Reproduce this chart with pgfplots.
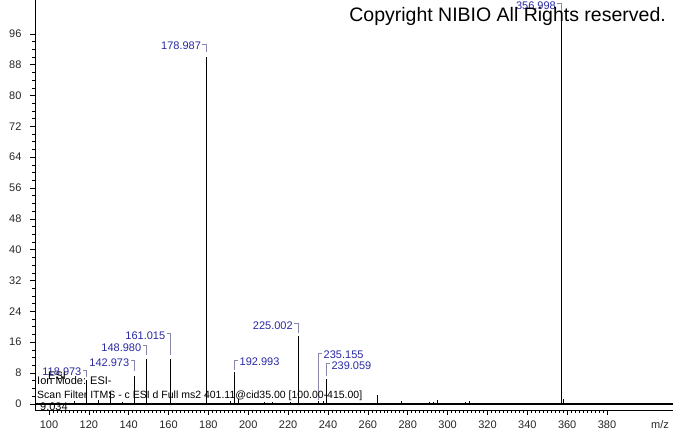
\documentclass[border=0pt]{standalone}
\usepackage{pgfplots}
\pgfplotsset{compat=1.18}
\usepackage{fontspec}
\setmainfont{Liberation Sans}
\definecolor{lblue}{RGB}{40,40,165}
\definecolor{brk}{RGB}{135,135,170}
\newcommand{\lblL}[4]{% x, ybottom, ycorner, text : label left of bracket
  \draw[brk, line width=0.8bp] (axis cs:#1,#2) -- (axis cs:#1,#3) -- ++(-4bp,0bp)
    node[anchor=east, inner sep=1bp, yshift=-2bp, text=lblue, font=\fontsize{11bp}{13bp}\selectfont] {#4};}
\newcommand{\lblR}[4]{% label right of bracket
  \draw[brk, line width=0.8bp] (axis cs:#1,#2) -- (axis cs:#1,#3) -- ++(4bp,0bp)
    node[anchor=west, inner sep=1bp, yshift=-2bp, text=lblue, font=\fontsize{11bp}{13bp}\selectfont] {#4};}
\begin{document}
\begin{tikzpicture}[x=1bp,y=1bp]
\useasboundingbox (0,0) rectangle (673,433);
\begin{axis}[
  at={(35bp,23bp)}, anchor=south west,
  scale only axis, width=638bp, height=410bp,
  xmin=93, xmax=413.1, ymin=-1.6, ymax=104.8,
  axis x line=bottom, axis y line=left,
  axis line style={-, black, line width=0.8bp},
  xtick={100,120,...,380}, ytick={0,8,...,96},
  minor x tick num=9, minor y tick num=3,
  tick align=outside,
  major tick length=5bp, minor tick length=3bp,
  tick style={black, line width=0.6bp},
  tick label style={font=\fontsize{11bp}{13bp}\selectfont, text=black!85},
  yticklabel style={xshift=-5bp},
  xticklabel style={yshift=-2bp},
  /pgf/number format/assume math mode=true,
  clip=false,
]
\addplot[black, line width=1.4bp] coordinates {(93,0) (413.1,0)};
\addplot[ycomb, black, line width=1bp, mark=none] coordinates {
  (113,0.8) (118.973,6.3) (125,1.0) (131,3.0) (137,0.6)
  (142.973,7.2) (148.980,11.6) (161.015,11.6) (178.987,89.9)
  (191.0,0.8) (192.993,8.2) (195.0,1.3) (208,0.5) (212,0.5) (221,0.4)
  (225.002,17.6) (235.155,0.8) (237.5,0.7) (239.059,6.4)
  (265.0,2.4) (277,0.8) (291,0.4) (293,0.4) (295,0.9) (309,0.4) (311,0.8)
  (337,0.3) (356.998,100) (358,1.2)
};
\lblL{118.973}{7.0}{8.8}{118.973}
\lblL{142.973}{8.6}{11.2}{142.973}
\lblL{148.980}{12.7}{15.1}{148.980}
\lblL{161.015}{12.7}{18.2}{161.015}
\lblL{178.987}{91.4}{93.4}{178.987}
\lblR{192.993}{8.8}{11.4}{192.993}
\lblL{225.002}{18.4}{20.8}{225.002}
\lblR{235.155}{1.0}{13.2}{235.155}
\lblR{239.059}{7.3}{10.4}{239.059}
\lblL{356.998}{101.5}{103.8}{356.998}
\end{axis}
\node[anchor=center, font=\fontsize{11bp}{13bp}\selectfont, text=black!85] at (660,8) {m/z};
\node[anchor=west, inner sep=0pt, font=\fontsize{11bp}{13bp}\selectfont] at (48,57) {ESI};
\node[anchor=west, inner sep=0pt, font=\fontsize{11bp}{13bp}\selectfont] at (37,52) {Ion Mode: ESI-};
\node[anchor=west, inner sep=0pt, font=\fontsize{10.5bp}{12bp}\selectfont] at (37,37) {Scan Filter ITMS - c ESI d Full ms2 401.11@cid35.00 [100.00-415.00]};
\node[anchor=west, inner sep=0pt, font=\fontsize{11bp}{13bp}\selectfont] at (40,26) {9.034};
\node[anchor=base east, inner sep=0pt, font=\fontsize{19.5bp}{22bp}\selectfont] at (666,411) {Copyright NIBIO All Rights reserved.};
\end{tikzpicture}
\end{document}
